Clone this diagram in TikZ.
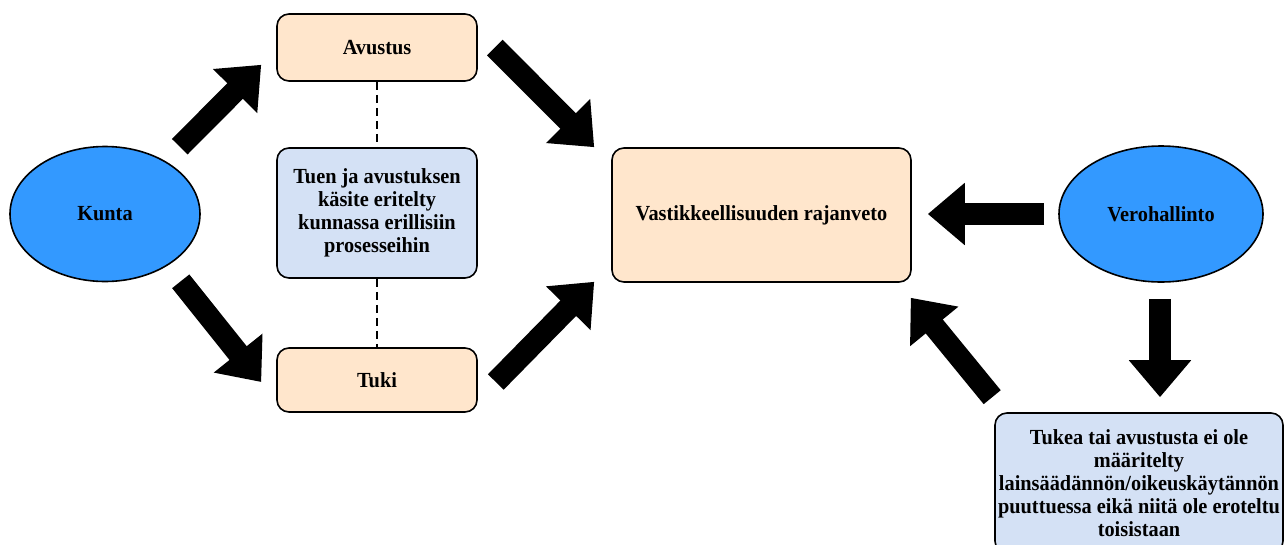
\documentclass[tikz,border=0pt]{standalone}
\usepackage{fontspec}
\setmainfont{Liberation Serif}[FakeStretch=0.945]
\usetikzlibrary{arrows.meta,shapes.geometric}
\definecolor{peach}{HTML}{FFE6CC}
\definecolor{paleblue}{HTML}{D4E1F5}
\definecolor{skyblue}{HTML}{3399FF}

\begin{document}
\begin{tikzpicture}[x=1pt,y=-1pt,
    every node/.style={font=\fontsize{21.5}{23}\selectfont\bfseries, align=center},
    box/.style={draw, line width=1.6pt, rounded corners=12pt, minimum width=200pt, inner sep=0pt},
    oval/.style={draw, line width=1.6pt, ellipse, fill=skyblue, inner sep=0pt},
    blockarrow/.style={line width=22pt, -{Triangle[length=37pt,width=60pt]}}]
            \useasboundingbox (0,0) rectangle (1285,544);
            % left side
            \node[oval, minimum width=190pt, minimum height=135pt] (kunta) at (105,214) {Kunta};
            \node[box, fill=peach, minimum height=67pt] (avustus) at (377,47.5) {Avustus};
            \node[box, fill=paleblue, minimum height=130pt] (kasite) at (377,213) {Tuen ja avustuksen\\k\"asite eritelty\\kunnassa erillisiin\\prosesseihin};
            \node[box, fill=peach, minimum height=64pt] (tuki) at (377,380) {Tuki};
            % middle and right side
            \node[box, fill=peach, minimum width=299pt, minimum height=134pt] (rajanveto) at (761.5,215) {Vastikkeellisuuden rajanveto};
            \node[oval, minimum width=204pt, minimum height=136pt] (vero) at (1161,214) {Verohallinto};
            \node[box, fill=paleblue, minimum width=288pt, minimum height=140pt] (maarittely) at (1139,483) {Tukea tai avustusta ei ole\\m\"a\"aritelty\\lains\"a\"ad\"ann\"on/oikeusk\"ayt\"ann\"on\\puuttuessa eik\"a niit\"a ole eroteltu\\toisistaan};
            \draw[dashed, dash pattern=on 8pt off 5pt, line width=2pt] (avustus) -- (kasite);
            \draw[dashed, dash pattern=on 8pt off 5pt, line width=2pt] (kasite) -- (tuki);
            \draw[blockarrow] ([shift={(7,-19)}]kunta.north east) -- ([shift={(-15,-17)}]avustus.south west);
            \draw[blockarrow] ([shift={(8,19)}]kunta.south east) -- ([shift={(-15,2)}]tuki.west);
            \draw[blockarrow] ([shift={(17,0)}]avustus.east) -- ([shift={(-17,0)}]rajanveto.north west);
            \draw[blockarrow] ([shift={(18,2)}]tuki.east) -- ([shift={(-17,-1)}]rajanveto.south west);
            \draw[blockarrow] ([shift={(-14,0)}]vero.west) -- ([shift={(16,-1)}]rajanveto.east);
            \draw[blockarrow] ([shift={(-1,16)}]vero.south) -- ([shift={(21,-15)}]maarittely.north);
            \draw[blockarrow] ([shift={(-2,-15)}]maarittely.north west) -- ([shift={(-1,15)}]rajanveto.south east);
      \end{tikzpicture}
\end{document}
